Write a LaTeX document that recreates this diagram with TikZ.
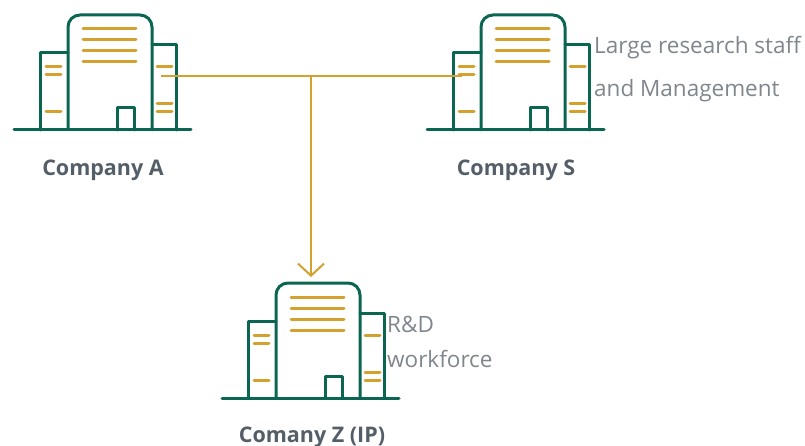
\documentclass[tikz,border=0pt]{standalone}
\usepackage{fontspec}
\setmainfont{Open Sans}
\usetikzlibrary{arrows.meta}
\definecolor{bgreen}{HTML}{0A6650}
\definecolor{bgold}{HTML}{D4A02E}
\definecolor{labgray}{HTML}{545E68}
\definecolor{txtgray}{HTML}{80868D}
\tikzset{
  wall/.style={draw=bgreen,line width=3pt,line cap=round,line join=round},
  stripe/.style={draw=bgold,line width=3pt,line cap=round},
  link/.style={draw=bgold,line width=2pt},
  tip/.style={-{Straight Barb[length=12pt,width=26pt,line width=2pt]}},
  complabel/.style={font=\bfseries\fontsize{21.5}{26}\selectfont,text=labgray,inner sep=0pt,anchor=base},
  note/.style={font=\fontsize{22.5}{26}\selectfont,text=txtgray,inner sep=0pt,anchor=base west},
}
\newcommand{\building}[2]{%
\begin{scope}[shift={(#1,#2)}]
  \draw[wall,rounded corners=12pt] (68,130) -- (68,15) -- (152,15) -- (152,130);
  \draw[wall] (40,130) -- (40,53) -- (68,53);
  \draw[wall] (152,45) -- (176,45) -- (176,130);
  \draw[wall] (117,130) -- (117,108) -- (134,108) -- (134,130);
  \draw[wall] (14,130) -- (191,130);
  \foreach \yy in {29,40,51,62} \draw[stripe] (83,\yy) -- (136,\yy);
  \foreach \yy in {67,75,112} \draw[stripe] (46,\yy) -- (61,\yy);
  \foreach \yy in {67,104,112} \draw[stripe] (157,\yy) -- (172,\yy);
\end{scope}}
\begin{document}
\begin{tikzpicture}[x=1pt,y=-1pt]
\useasboundingbox (0,0) rectangle (805,446);
\building{0}{0}
\building{413}{0}
\building{208}{268}
\coordinate (aR) at (161,76);
\coordinate (sL) at (462,76);
\coordinate (jn) at (311,76);
\coordinate (zT) at (311,277);
\draw[link] (aR) -- (sL);
\draw[link,tip] (jn) -- (zT);
\node[complabel] (la) at (103,176) {Company A};
\node[complabel] (ls) at (516,176) {Company S};
\node[complabel] (lz) at (312,442) {Comany Z (IP)};
\node[note] (n1) at (594,54) {Large research staff};
\node[note] (n2) at (594,97) {and Management};
\node[note] (n3) at (387,332) {R\&D};
\node[note] (n4) at (387,367) {workforce};
\end{tikzpicture}
\end{document}
